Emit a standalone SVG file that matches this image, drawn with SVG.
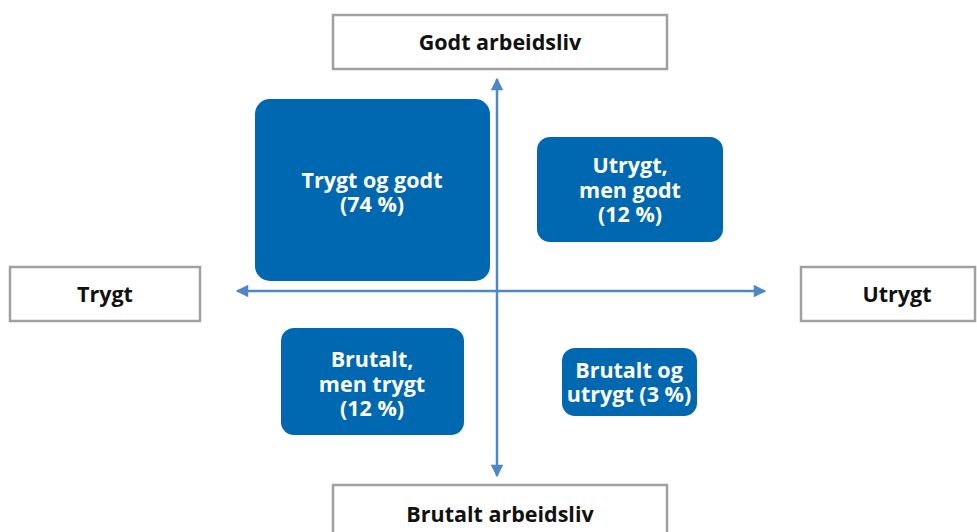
<svg xmlns="http://www.w3.org/2000/svg" width="977" height="532" viewBox="0 0 977 532">
<defs>
<marker id="ah" viewBox="0 0 10 10" refX="9" refY="5" markerWidth="5.5" markerHeight="5" markerUnits="strokeWidth" orient="auto">
<path d="M0,0 L10,5 L0,10 z" fill="#4f86c6"/>
</marker>
<style>
.lbl{fill:#fff;stroke:#a0a0a0;stroke-width:2.5}
.q{fill:#0068b1}
.t{font-family:"Open Sans","Liberation Sans",sans-serif;font-weight:700;font-size:21.5px;text-anchor:middle}
.tb{fill:#111}
.tw{fill:#fff}
.ax{stroke:#4f86c6;stroke-width:2.5;fill:none;marker-end:url(#ah)}
</style>
</defs>
<g id="connectors">
<line class="ax" x1="497" y1="291" x2="497" y2="79"/>
<line class="ax" x1="497" y1="291" x2="497" y2="476"/>
<line class="ax" x1="497" y1="291" x2="237" y2="291"/>
<line class="ax" x1="497" y1="291" x2="765" y2="291"/>
</g>
<g id="godt">
<rect class="lbl" x="333" y="15" width="334" height="54"/>
<text class="t tb" x="500" y="50">Godt arbeidsliv</text>
</g>
<g id="trygt">
<rect class="lbl" x="10" y="267" width="190" height="54"/>
<text class="t tb" x="105" y="302">Trygt</text>
</g>
<g id="utrygt">
<rect class="lbl" x="801" y="267" width="174" height="54"/>
<text class="t tb" x="897" y="302">Utrygt</text>
</g>
<g id="brutalt">
<rect class="lbl" x="333" y="485" width="334" height="60"/>
<text class="t tb" x="500" y="522">Brutalt arbeidsliv</text>
</g>
<g id="q1">
<rect class="q" x="255" y="99" width="235" height="182" rx="15"/>
<text class="t tw" x="372" y="188">Trygt og godt</text>
<text class="t tw" x="372" y="212">(74 %)</text>
</g>
<g id="q2">
<rect class="q" x="537" y="137" width="186" height="105" rx="13"/>
<text class="t tw" x="630" y="173">Utrygt,</text>
<text class="t tw" x="630" y="198">men godt</text>
<text class="t tw" x="630" y="222">(12 %)</text>
</g>
<g id="q3">
<rect class="q" x="281" y="328" width="183" height="107" rx="13"/>
<text class="t tw" x="372" y="367">Brutalt,</text>
<text class="t tw" x="372" y="392">men trygt</text>
<text class="t tw" x="372" y="416">(12 %)</text>
</g>
<g id="q4">
<rect class="q" x="562" y="348" width="135" height="68" rx="13"/>
<text class="t tw" x="629" y="378">Brutalt og</text>
<text class="t tw" x="629" y="402">utrygt (3 %)</text>
</g>
</svg>
